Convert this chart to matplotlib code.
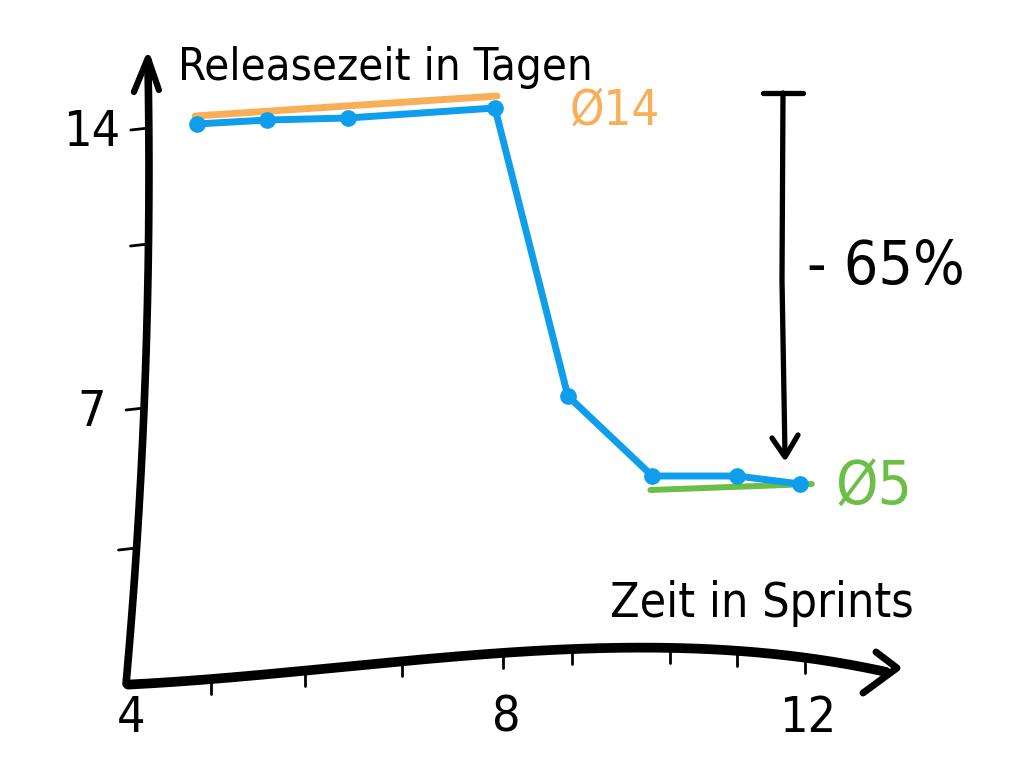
import numpy as np
import matplotlib
matplotlib.use('Agg')
import matplotlib.pyplot as plt
from matplotlib import font_manager
from matplotlib.font_manager import FontProperties

sprints = [4.83, 5.6, 6.44, 7.92, 8.94, 9.82, 11.0, 11.93]
release_days = [14.1, 14.2, 14.25, 14.5, 7.3, 5.3, 5.3, 5.1]

avg_before_x = [4.81, 7.94]
avg_before_y = [14.3, 14.8]
avg_after_x = [9.8, 12.08]
avg_after_y = [4.95, 5.1]

x_ticks = [4, 5, 6, 7, 8, 9, 10, 11, 12]
x_tick_labels = ['4', '', '', '', '8', '', '', '', '12']
y_ticks = [3.5, 7, 11.1, 14]
y_tick_labels = ['', '7', '', '14']

title = 'Releasezeit in Tagen'
xlabel = 'Zeit in Sprints'
label_before = 'Ø14'
label_after = 'Ø5'
label_change = '- 65%'

blue = '#0e9eec'
orange = '#f9af57'
green = '#6bbf47'


# schmale Schrift suchen, sonst DejaVu Sans
hand_file = None
for f in font_manager.fontManager.ttflist:
    n = f.name + ' ' + str(f.stretch)
    if ('Narrow' in n or 'ondensed' in n) and f.style == 'normal' and f.weight in (400, 'normal', 'regular', 'book'):
        hand_file = f.fname
        break
if hand_file:
    hand = FontProperties(fname=hand_file)
else:
    hand = FontProperties(family='DejaVu Sans')

# die x-Achse ist von Hand gezeichnet, die Striche liegen nicht gleichmaessig
sketch_vals = np.array([4, 5, 6, 7, 8, 9, 10, 11, 12, 13], dtype=float)
sketch_pos = np.array([0, 83, 177, 274, 375, 444, 542, 609, 677, 762], dtype=float)


def fwd(x):
    return np.interp(x, sketch_vals, sketch_pos)


def inv(p):
    return np.interp(p, sketch_pos, sketch_vals)


fig = plt.figure(figsize=(10.24, 7.68), dpi=100)
deco = fig.add_axes([0, 0, 1, 1])
deco.set_xlim(0, 1024)
deco.set_ylim(768, 0)
deco.axis('off')

ax = fig.add_axes([128 / 1024, 80 / 768, 762 / 1024, 628 / 768])
ax.set_xscale('function', functions=(fwd, inv))
ax.set_xlim(4, 13)
ax.set_ylim(0, 15.7)
ax.axis('off')
ax.patch.set_alpha(0)

# Durchschnittslinien und Messwerte
ax.plot(avg_before_x, avg_before_y, color=orange, lw=5, solid_capstyle='round')
ax.plot(avg_after_x, avg_after_y, color=green, lw=4.3, solid_capstyle='round')
ax.plot(sprints, release_days, color=blue, lw=5, marker='o', ms=11,
        solid_joinstyle='round', solid_capstyle='round')


def to_px(x, y):
    dx, dy = ax.transData.transform((x, y))
    return dx, 768 - dy


renderer = fig.canvas.get_renderer()


def hand_text(x, y, s, width, size=30, **kw):
    # Schriftgroesse so waehlen, dass die Breite der Skizze passt
    t = deco.text(x, y, s, fontproperties=hand, fontsize=size, **kw)
    w = t.get_window_extent(renderer).width
    t.set_fontsize(size * width / w)
    return t


# gebogene Achsen
xa_x = [128, 258, 416, 521, 679, 784, 884]
xa_y = [684, 676, 662, 648, 648, 658, 670]
px_fit = np.poly1d(np.polyfit(xa_x, xa_y, 3))
xx = np.linspace(128, 886, 200)
deco.plot(xx, px_fit(xx), color='black', lw=7, solid_capstyle='round')
deco.plot([876, 897, 863], [652, 668, 693], color='black', lw=5,
          solid_capstyle='round', solid_joinstyle='round')

ya_y = [684, 547, 408, 243, 128, 60]
ya_x = [128, 133, 144, 152, 148, 147]
py_fit = np.poly1d(np.polyfit(ya_y, ya_x, 2))
yy = np.linspace(60, 684, 200)
deco.plot(py_fit(yy), yy, color='black', lw=5.5, solid_capstyle='round')
top_x = py_fit(60)
deco.plot([top_x - 14, top_x, top_x + 11], [92, 58, 90], color='black', lw=4.5,
          solid_capstyle='round', solid_joinstyle='round')

# Striche und Beschriftungen
for t, lab in zip(x_ticks, x_tick_labels):
    px, _ = to_px(t, 0)
    if t > 4:
        yc = px_fit(px)
        deco.plot([px, px], [yc, yc + 15], color='black', lw=2, solid_capstyle='round')
    if lab:
        deco.text(px + 3, 718, lab, fontproperties=hand, fontsize=36,
                  ha='center', va='center')

for v, lab in zip(y_ticks, y_tick_labels):
    _, py = to_px(4, v)
    xc = py_fit(py)
    deco.plot([xc - 18, xc], [py + 2, py], color='black', lw=2, solid_capstyle='round')
    if lab:
        deco.text(92, py + 4, lab, fontproperties=hand, fontsize=36,
                  ha='center', va='center')

hand_text(178, 80, title, 414, ha='left', va='baseline')
hand_text(610, 617, xlabel, 303, ha='left', va='baseline')
hand_text(570, 124, label_before, 90, color=orange, ha='left', va='baseline')
hand_text(835, 505, label_after, 77, color=green, ha='left', va='baseline')
hand_text(807, 284, label_change, 158, ha='left', va='baseline')

# Klammer mit Pfeil fuer die Veraenderung
deco.plot([763, 803], [93, 93], color='black', lw=3.8, solid_capstyle='round')
deco.plot([783, 782, 785], [93, 280, 455], color='black', lw=3.8, solid_capstyle='round')
deco.plot([772, 785, 798], [438, 457, 435], color='black', lw=3.8,
          solid_capstyle='round', solid_joinstyle='round')

fig.savefig('out.png', dpi=100)
